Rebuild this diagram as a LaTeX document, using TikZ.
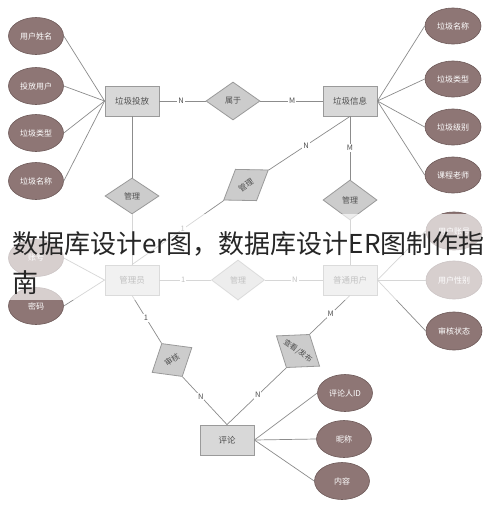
\documentclass[tikz,border=0pt]{standalone}
\usepackage{fontspec}
\newfontfamily\cjk{Noto Sans CJK SC}
\usetikzlibrary{shapes.geometric}
\definecolor{attrc}{HTML}{8E7675}
\definecolor{attrd}{HTML}{6E5A59}
\definecolor{entc}{HTML}{D8D8D8}
\definecolor{entd}{HTML}{9A9A9A}
\definecolor{relc}{HTML}{CCCCCC}
\definecolor{linec}{HTML}{8C8C8C}
\definecolor{txtc}{HTML}{505050}
\begin{document}
\begin{tikzpicture}[x=1pt,y=-1pt,
 attr/.style={ellipse,fill=attrc,draw=attrd,line width=0.6pt,text=white,minimum width=55pt,minimum height=37pt,inner sep=0pt,font=\cjk\fontsize{8}{9}\selectfont},
 ent/.style={rectangle,fill=entc,draw=entd,line width=0.8pt,text=txtc,minimum width=54pt,minimum height=30pt,inner sep=0pt,font=\cjk\fontsize{8.5}{10}\selectfont},
 rel/.style={diamond,fill=relc,draw=entd,line width=0.8pt,text=txtc,minimum width=54pt,minimum height=38pt,inner sep=0pt,font=\cjk\fontsize{8}{9}\selectfont},
 conn/.style={draw=linec,line width=0.7pt},
 card/.style={fill=white,inner sep=1pt,text=txtc,font=\cjk\fontsize{7.5}{8}\selectfont},
 wmark/.style={anchor=base west,inner sep=0pt,text=black!85,font=\cjk\fontsize{26}{30}\selectfont}]
\useasboundingbox (0,0) rectangle (490,509);
\fill[white] (0,0) rectangle (490,509);

% entities
\node[ent] (tf) at (132,101) {垃圾投放};
\node[ent] (info) at (350,101) {垃圾信息};
\node[ent] (mgr) at (132,280) {管理员};
\node[ent] (user) at (350,280) {普通用户};
\node[ent] (pl) at (227,440) {评论};

% relationships
\node[rel] (sy) at (233,101) {属于};
\node[rel,minimum height=36pt] (gl1) at (132,196) {管理};
\node[rel,minimum height=40pt] (gl2) at (350,200) {管理};
\node[rel,minimum width=53pt,minimum height=40pt] (gl3) at (238,280) {管理};
\node[rel,rotate=34] (gl4) at (246,185) {管理};
\node[rel,rotate=32,minimum width=47pt,minimum height=39pt] (sh) at (172,360) {审核};
\node[rel,rotate=-35,minimum width=53pt,minimum height=35pt,font=\cjk\fontsize{7.5}{8}\selectfont] (ck) at (298,351) {查看/发布};

% attributes left
\node[attr] (a1) at (36,36) {用户姓名};
\node[attr] (a2) at (36,86) {投放用户};
\node[attr] (a3) at (36,133) {垃圾类型};
\node[attr] (a4) at (36,181) {垃圾名称};
\node[attr] (a5) at (36,258) {账号};
\node[attr] (a6) at (36,306) {密码};
% attributes right
\node[attr,minimum width=56pt,minimum height=36pt] (b1) at (453,26) {垃圾名称};
\node[attr,minimum width=56pt,minimum height=36pt] (b2) at (453,79) {垃圾类型};
\node[attr,minimum width=56pt,minimum height=36pt] (b3) at (453,127) {垃圾级别};
\node[attr,minimum width=56pt,minimum height=36pt] (b4) at (453,175) {课程老师};
\node[attr,minimum width=56pt,minimum height=38pt] (b5) at (454,231) {用户账号};
\node[attr,minimum width=56pt,minimum height=38pt] (b6) at (454,280) {用户性别};
\node[attr,minimum width=56pt,minimum height=38pt] (b7) at (454,331) {审核状态};
% attributes bottom
\node[attr] (c1) at (345,393) {评论人ID};
\node[attr] (c2) at (344,439) {昵称};
\node[attr] (c3) at (342,481) {内容};

% connectors
\foreach \a in {a1,a2,a3,a4} \draw[conn] (\a.east) -- (tf.west);
\foreach \a in {a5,a6} \draw[conn] (\a.east) -- (mgr.west);
\foreach \b in {b1,b2,b3,b4} \draw[conn] (\b.west) -- (info.east);
\foreach \b in {b5,b6,b7} \draw[conn] (\b.west) -- (user.east);
\foreach \c in {c1,c2,c3} \draw[conn] (\c.west) -- (pl.east);

\draw[conn] (tf.east) -- node[card,pos=0.47] (l1) {N} (sy);
\draw[conn] (sy) -- node[card,pos=0.51] (l2) {M} (info.west);
\draw[conn] (tf.south) -- (gl1);
\draw[conn] (gl1) -- (mgr.north);
\draw[conn] (info.south) -- node[card,pos=0.5] (l3) {M} (gl2);
\draw[conn] (gl2) -- (user.north);
\draw[conn] (mgr.north) -- node[card,pos=0.55] (l4) {1} (gl4);
\draw[conn] (gl4) -- node[card,pos=0.46] (l5) {N} (info.south);
\draw[conn] (mgr.east) -- node[card,pos=0.46] (l6) {1} (gl3);
\draw[conn] (gl3) -- node[card,pos=0.52] (l7) {N} (user.west);
\draw[conn] (mgr.south) -- node[card,pos=0.47] (l8) {1} (sh.north);
\draw[conn] (sh.south) -- node[card,pos=0.41] (l9) {N} (pl.north);
\draw[conn] (user.south) -- node[card,pos=0.48] (l10) {M} (ck.north);
\draw[conn] (ck.south) -- node[card,pos=0.48] (l11) {N} (pl.north);

% watermark band and text
\fill[white,opacity=0.65] (0,214) rectangle (490,300);
\node[wmark] (wm1) at (12,253) {数据库设计er图，数据库设计ER图制作指};
\node[wmark] (wm2) at (12,292) {南};
\end{tikzpicture}
\end{document}
